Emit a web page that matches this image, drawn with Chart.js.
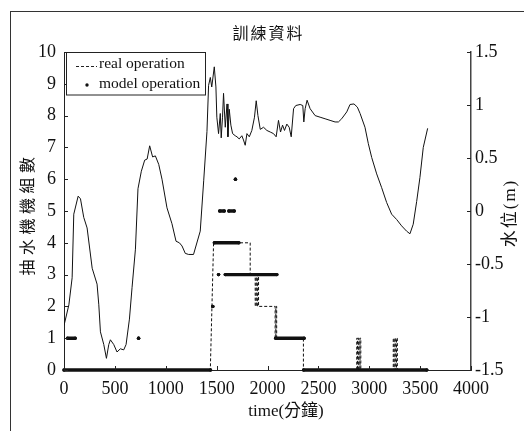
<!DOCTYPE html>
<html>
<head>
<meta charset="utf-8">
<script src="https://cdn.jsdelivr.net/npm/chart.js@4.4.1/dist/chart.umd.min.js"></script>
<style>
html, body { margin: 0; padding: 0; background: #fff; }
#wrap { position: relative; width: 524px; height: 431px; }
#frame { position: absolute; left: 10px; top: 11px; right: 0; bottom: 0; border-left: 1.5px solid #333; border-top: 1.5px solid #333; pointer-events: none; }
</style>
</head>
<body>
<div id="wrap"><canvas id="chart" width="524" height="431"></canvas><div id="frame"></div></div>
<script>
// water level (m), right axis
const waterTime = [0, 48, 80, 96, 139, 162, 194, 227, 277, 325, 342, 358, 391, 417, 440, 456, 489, 521, 554, 587, 610, 643, 669, 702, 727, 760, 793, 817, 842, 871, 898, 931, 963, 1012, 1061, 1101, 1134, 1160, 1192, 1225, 1273, 1339, 1373, 1405, 1421, 1438, 1452, 1477, 1493, 1502, 1519, 1536, 1545, 1558, 1568, 1585, 1602, 1611, 1624, 1640, 1657, 1683, 1700, 1722, 1748, 1764, 1781, 1798, 1821, 1846, 1872, 1889, 1906, 1929, 1961, 1994, 2027, 2059, 2085, 2108, 2128, 2148, 2167, 2190, 2213, 2233, 2256, 2278, 2321, 2347, 2357, 2370, 2389, 2419, 2468, 2517, 2566, 2615, 2664, 2697, 2729, 2779, 2811, 2850, 2883, 2910, 2958, 2991, 3024, 3073, 3122, 3171, 3220, 3269, 3318, 3367, 3400, 3432, 3466, 3498, 3531, 3574];
const waterLevel = [-1.08, -0.885, -0.63, -0.03, 0.14, 0.115, -0.06, -0.16, -0.54, -0.69, -0.885, -1.14, -1.26, -1.39, -1.26, -1.215, -1.26, -1.33, -1.3, -1.31, -1.26, -1.02, -0.72, -0.36, 0.21, 0.375, 0.48, 0.49, 0.615, 0.51, 0.52, 0.44, 0.3, 0.03, -0.12, -0.285, -0.3, -0.33, -0.4, -0.41, -0.41, -0.19, 0.285, 0.75, 1.185, 1.26, 1.17, 1.36, 1.17, 0.885, 0.73, 0.92, 0.69, 0.885, 1.11, 0.79, 1.01, 0.7, 0.96, 0.81, 0.73, 0.71, 0.7, 0.68, 0.71, 0.67, 0.62, 0.73, 0.7, 0.76, 0.885, 1.04, 0.9, 0.77, 0.79, 0.76, 0.745, 0.73, 0.7, 0.855, 0.745, 0.81, 0.76, 0.82, 0.79, 0.7, 0.965, 0.995, 1.005, 0.995, 0.84, 0.965, 1.045, 0.965, 0.9, 0.885, 0.87, 0.855, 0.84, 0.84, 0.87, 0.935, 1.005, 1.01, 0.98, 0.92, 0.79, 0.635, 0.505, 0.35, 0.22, 0.08, -0.03, -0.08, -0.14, -0.19, -0.215, -0.125, 0.09, 0.315, 0.6, 0.78];

// real operation (number of pump units), left axis
const realTime = [0, 1438, 1470, 1830, 1830, 1879, 1879, 1887, 1887, 1895, 1895, 1903, 1903, 1912, 1912, 2075, 2075, 2082, 2082, 2090, 2090, 2353, 2353, 2877, 2877, 2885, 2885, 2893, 2893, 2901, 2901, 2909, 2909, 2917, 2917, 3236, 3236, 3244, 3244, 3252, 3252, 3260, 3260, 3268, 3268, 3276, 3276, 3600];
const realUnits = [0, 0, 4, 4, 3, 3, 2, 2, 3, 3, 2, 2, 3, 3, 2, 2, 1, 1, 2, 2, 1, 1, 0, 0, 1, 1, 0, 0, 1, 1, 0, 0, 1, 1, 0, 0, 1, 1, 0, 0, 1, 1, 0, 0, 1, 1, 0, 0];

// model operation, runs of equal output (start, end, units)
const modelStart = [0, 35, 733, 1462, 1478, 1519, 1530, 1585, 1620, 1685, 2080, 2355];
const modelEnd = [1440, 110, 733, 1462, 1718, 1519, 1575, 2092, 1673, 1685, 2360, 3565];
const modelUnits = [0, 1, 1, 2, 4, 3, 5, 3, 5, 6, 1, 0];

const xTicks = [0, 500, 1000, 1500, 2000, 2500, 3000, 3500, 4000];
const leftTicks = [0, 1, 2, 3, 4, 5, 6, 7, 8, 9, 10];
const rightTicks = [-1.5, -1, -0.5, 0, 0.5, 1, 1.5];
const rightLabels = ['-1.5', '-1', '-0.5', '0', '0.5', '1', '1.5'];

const serif = "'Liberation Serif', 'Noto Sans CJK TC', serif";
const ink = '#111';

let modelPoints = [];
modelStart.forEach((s, i) => {
    modelPoints.push({ x: s, y: modelUnits[i] }, { x: modelEnd[i], y: modelUnits[i] }, { x: modelEnd[i], y: null });
});

const extras = {
    id: 'extras',
    afterDraw(chart) {
        const { ctx, chartArea: a, scales } = chart;
        ctx.save();
        // inward tick marks
        ctx.strokeStyle = '#222';
        ctx.lineWidth = 1;
        ctx.beginPath();
        xTicks.forEach(v => {
            let p = Math.round(scales.x.getPixelForValue(v)) + 0.5;
            ctx.moveTo(p, a.bottom); ctx.lineTo(p, a.bottom - 4);
        });
        leftTicks.forEach(v => {
            let p = Math.round(scales.y.getPixelForValue(v)) + 0.5;
            ctx.moveTo(a.left, p); ctx.lineTo(a.left + 4, p);
        });
        rightTicks.forEach(v => {
            let p = Math.round(scales.y2.getPixelForValue(v)) + 0.5;
            ctx.moveTo(a.right, p); ctx.lineTo(a.right - 4, p);
        });
        ctx.stroke();

        // titles
        ctx.fillStyle = ink;
        ctx.textAlign = 'center';
        ctx.textBaseline = 'middle';
        ctx.font = "16px 'Noto Sans CJK TC'";
        ctx.letterSpacing = '2px';
        ctx.fillText('訓練資料', (a.left + a.right) / 2 + 1, 33);
        ctx.letterSpacing = '0px';
        ctx.font = '17px ' + serif;
        ctx.fillText('time(分鐘)', 286, 412);

        ctx.save();
        ctx.translate(27, 216);
        ctx.rotate(-Math.PI / 2);
        ctx.font = "16px 'Noto Sans CJK TC'";
        ctx.letterSpacing = '4.5px';
        ctx.fillText('抽水機機組數', 2, 0);
        ctx.restore();

        ctx.save();
        ctx.translate(511, 213);
        ctx.rotate(-Math.PI / 2);
        ctx.font = '17px ' + serif;
        ctx.letterSpacing = '2px';
        ctx.fillText('水位(m)', 0, 0);
        ctx.restore();

        // legend box
        ctx.fillStyle = '#fff';
        ctx.fillRect(66.5, 52.5, 139, 42.5);
        ctx.strokeStyle = '#222';
        ctx.strokeRect(66.5, 52.5, 139, 42.5);
        ctx.beginPath();
        ctx.setLineDash([3, 2]);
        ctx.moveTo(76, 66.5); ctx.lineTo(97, 66.5);
        ctx.stroke();
        ctx.setLineDash([]);
        ctx.fillStyle = ink;
        ctx.beginPath();
        ctx.arc(87, 85, 1.7, 0, Math.PI * 2);
        ctx.fill();
        ctx.font = '15.5px ' + serif;
        ctx.textAlign = 'left';
        ctx.textBaseline = 'alphabetic';
        ctx.fillText('real operation', 99, 68);
        ctx.fillText('model operation', 99, 88);
        ctx.restore();
    }
};

const ctx = document.getElementById('chart');
new Chart(ctx, {
    type: 'scatter',
    data: {
        datasets: [{
            label: '水位',
            data: waterTime.map((t, i) => ({ x: t, y: waterLevel[i] })),
            yAxisID: 'y2',
            showLine: true,
            borderColor: ink,
            borderWidth: 1,
            pointRadius: 0,
            tension: 0
        }, {
            label: 'real operation',
            data: realTime.map((t, i) => ({ x: t, y: realUnits[i] })),
            yAxisID: 'y',
            showLine: true,
            borderColor: ink,
            borderWidth: 1,
            borderDash: [3, 2],
            pointRadius: 0
        }, {
            label: 'model operation',
            data: modelPoints,
            yAxisID: 'y',
            showLine: true,
            spanGaps: false,
            clip: false,
            borderColor: ink,
            borderWidth: 3.4,
            borderCapStyle: 'round',
            pointRadius: 1.7,
            pointBackgroundColor: ink,
            pointBorderWidth: 0
        }]
    },
    options: {
        responsive: false,
        animation: false,
        events: [],
        layout: { padding: { top: 52, left: 0, right: 0, bottom: 0 } },
        plugins: { legend: { display: false }, tooltip: { enabled: false } },
        scales: {
            x: {
                type: 'linear', position: 'bottom', min: 0, max: 4000,
                afterFit: s => { s.height = 61; },
                afterBuildTicks: s => { s.ticks = xTicks.map(v => ({ value: v })); },
                ticks: { font: { family: serif, size: 18 }, color: ink, padding: 8, maxRotation: 0, autoSkip: false, callback: v => String(v) },
                grid: { drawOnChartArea: false, drawTicks: false },
                border: { color: '#222', width: 1 }
            },
            y: {
                position: 'left', min: 0, max: 10,
                afterFit: s => { s.width = 64; },
                afterBuildTicks: s => { s.ticks = leftTicks.map(v => ({ value: v })); },
                ticks: { font: { family: serif, size: 18 }, color: ink, padding: 8, autoSkip: false, callback: v => String(v) },
                grid: { drawOnChartArea: false, drawTicks: false },
                border: { color: '#222', width: 1 }
            },
            y2: {
                position: 'right', min: -1.5, max: 1.5,
                afterFit: s => { s.width = 53; },
                afterBuildTicks: s => { s.ticks = rightTicks.map(v => ({ value: v })); },
                ticks: { font: { family: serif, size: 18 }, color: ink, padding: 4, autoSkip: false, callback: (v, i) => rightLabels[i] },
                grid: { drawOnChartArea: false, drawTicks: false },
                border: { color: '#444', width: 1.5 }
            }
        }
    },
    plugins: [extras]
});
</script>
</body>
</html>
